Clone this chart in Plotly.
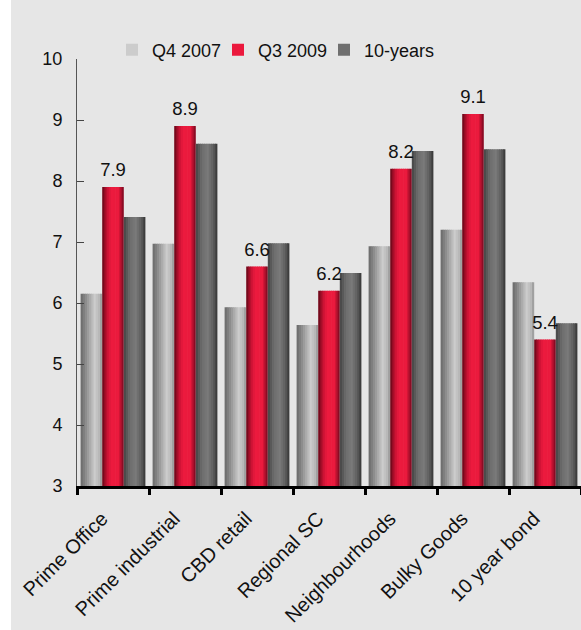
import plotly.graph_objects as go

# Yields by sector (%)
categories = ["Prime Office", "Prime industrial", "CBD retail", "Regional SC",
              "Neighbourhoods", "Bulky Goods", "10 year bond"]
q4_2007 = [6.15, 6.97, 5.93, 5.64, 6.93, 7.20, 6.34]
q3_2009 = [7.9, 8.9, 6.6, 6.2, 8.2, 9.1, 5.4]
ten_years = [7.41, 8.61, 6.98, 6.49, 8.49, 8.52, 5.67]
y_ticks = [3, 4, 5, 6, 7, 8, 9, 10]

series = [
    ("Q4 2007", q4_2007, "legend"),
    ("Q3 2009", q3_2009, "legend2"),
    ("10-years", ten_years, "legend3"),
]

# Horizontal colour ramps (position, rgb) giving each bar a cylindrical shading
ramps = {
    "Q4 2007": [(0.0, (104, 104, 104)), (0.3, (148, 148, 148)), (0.65, (204, 204, 204)),
                (0.85, (184, 184, 184)), (1.0, (148, 148, 148))],
    "Q3 2009": [(0.0, (96, 6, 22)), (0.22, (198, 18, 50)), (0.4, (236, 26, 62)),
                (0.75, (234, 25, 60)), (1.0, (116, 8, 30))],
    "10-years": [(0.0, (68, 68, 68)), (0.3, (110, 110, 110)), (0.55, (122, 122, 122)),
                 (0.8, (95, 95, 95)), (1.0, (50, 50, 50))],
}


def ramp_color(stops, t):
    for (p0, c0), (p1, c1) in zip(stops, stops[1:]):
        if p0 <= t <= p1:
            f = (t - p0) / (p1 - p0) if p1 > p0 else 0
            r, g, b = (round(a + (bb - a) * f) for a, bb in zip(c0, c1))
            return f"rgb({r},{g},{b})"
    r, g, b = stops[-1][1]
    return f"rgb({r},{g},{b})"


group_span = 0.9
bar_w = group_span / len(series)
n_slices = 10
slice_w = bar_w / n_slices
legend_slice = 6

fig = go.Figure()
for i, (name, values, legend_id) in enumerate(series):
    offset = -group_span / 2 + i * bar_w
    for k in range(n_slices):
        t = (k + 0.5) / n_slices
        w = slice_w * (1.3 if k < n_slices - 1 else 1.0)
        fig.add_trace(go.Bar(
            x=categories, y=values, name=name, legend=legend_id,
            showlegend=(k == legend_slice), hoverinfo="skip",
            offset=offset + k * slice_w, width=w,
            marker=dict(color=ramp_color(ramps[name], t), line=dict(width=0)),
        ))

# value labels above the Q3 2009 bars
fig.add_trace(go.Scatter(
    x=categories, y=q3_2009, mode="markers+text", showlegend=False,
    text=[f"{v:.1f}" for v in q3_2009], textposition="top center",
    textfont=dict(size=18.5, color="#111111"),
    marker=dict(size=8, color="rgba(0,0,0,0)"), hoverinfo="skip", cliponaxis=False,
))

plot_left, plot_w, plot_bottom, plot_h = 77, 504, 486, 427


def legend_at(text_x):
    return dict(orientation="h", xanchor="left", yanchor="middle",
                x=(text_x - 44 - plot_left) / plot_w,
                y=(plot_bottom - 50) / plot_h,
                bgcolor="rgba(0,0,0,0)", font=dict(size=18, color="#111111"),
                itemwidth=30)


fig.update_layout(
    width=581, height=630,
    margin=dict(l=77, r=0, t=59, b=144),
    barmode="overlay",
    paper_bgcolor="#e6e6e6", plot_bgcolor="#e6e6e6",
    font=dict(family="Liberation Sans, Arial", size=17, color="#111111"),
    showlegend=True,
    legend=legend_at(156),
    legend2=legend_at(262),
    legend3=legend_at(368),
    shapes=[dict(type="rect", xref="paper", yref="paper",
                 x0=-0.3, x1=-66 / 504, y0=-0.5, y1=1.2,
                 fillcolor="white", line=dict(width=0), layer="below")],
)
fig.update_xaxes(
    type="category", showgrid=False, zeroline=False,
    showline=True, linecolor="black", linewidth=3,
    ticks="outside", tickson="boundaries", ticklen=6, tickwidth=3, tickcolor="black",
    tickangle=-45, tickfont=dict(size=20), ticklabelshift=-11, ticklabelstandoff=10,
)
fig.update_yaxes(
    range=[3, 10], tickvals=y_ticks, showgrid=False, zeroline=False,
    showline=True, linecolor="#555555", linewidth=1,
    ticks="inside", ticklen=7, tickwidth=1, tickcolor="#444444",
    tickfont=dict(size=18), ticklabelstandoff=10,
)

fig.write_html("out.html")
